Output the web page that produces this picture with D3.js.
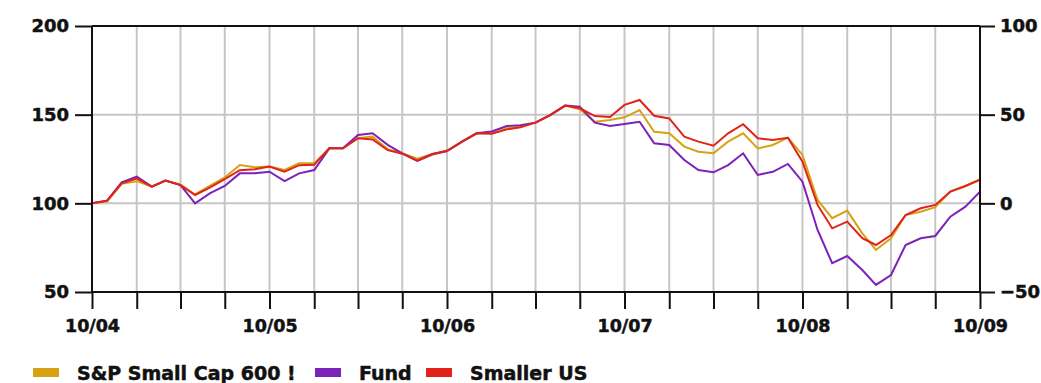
<!DOCTYPE html>
<html>
<head>
<meta charset="utf-8">
<script src="https://cdn.jsdelivr.net/npm/d3@7"></script>
<style>
  html, body { margin: 0; padding: 0; background: #ffffff; }
  svg { display: block; }
  text { font-family: "DejaVu Sans", Verdana, sans-serif; font-weight: bold; fill: #111; stroke: #111; stroke-width: 0.5px; }
</style>
</head>
<body>
<svg id="chart" width="1041" height="383"></svg>
<script>
// ---- data (monthly, Oct 2004 .. Oct 2009) ----
const startMonth = "2004-10";
const endMonth = "2009-10";
const spSmallCap = [100,101,111,112.5,109.4,112.8,110.5,105,110,114.6,121.6,120.4,120.7,118.8,122.6,122.6,131,131,136.7,137.6,130.5,128.2,125.2,127.8,129.8,134.8,139.5,139.5,142.3,143.5,145.5,149.8,155.1,153,146,147,148.5,152.6,140.4,139.5,132,129.1,128.2,134.8,139.5,131,132.9,137,127.3,101.9,91.6,95.9,83.1,73.7,80.3,93.4,95.3,97.8,106.6,109.8,113.7];
const fund = [100,101.5,111.8,115,109.4,112.8,110.3,100,105.7,109.8,116.9,116.9,117.8,112.5,116.9,118.8,131,131,138.5,139.5,133,128.2,124,127.8,129.5,134.8,139.5,140.5,143.6,144.1,145.5,149.8,155.1,154.5,145.5,143.6,144.7,146,133.9,132.9,124.4,118.8,117.5,121.6,128.2,116,117.8,122.2,112.2,85,66.2,70.3,62.4,54,59.6,76.5,80.3,81.6,92.5,98.1,106.6];
const smallerUS = [100,101.5,111.3,114,109.4,112.8,110.3,104.7,109,113.6,118.7,119.2,120.7,117.8,121.5,121.8,131,131,136.7,136,130,128,124,127.5,129.5,134.8,139.5,139.2,141.7,142.9,145.5,149.8,155.1,153.6,149.2,148.7,155.5,158.3,149.4,147.9,137.6,134.8,132.5,139.5,144.6,136.7,135.7,137,123.5,99.1,85.9,89.7,80.3,76.5,82.1,93.4,97.2,99.1,106.6,109.8,113.2];
const leftTicks = [50, 100, 150, 200];
const rightTicks = [-50, 0, 50, 100];
const seriesNames = ["S&P Small Cap 600 !", "Fund", "Smaller US"];
const seriesColors = ["#d6a214", "#7b22b8", "#e2231a"];

// ---- layout ----
const svg = d3.select("#chart");
const pL = 92, pR = 980, pT = 26, pB = 292;

const parse = d3.timeParse("%Y-%m");
const dates = d3.timeMonth.range(parse(startMonth), d3.timeMonth.offset(parse(endMonth), 1));

const x = d3.scaleTime().domain([parse(startMonth), parse(endMonth)]).range([pL, pR]);
const y = d3.scaleLinear().domain([50, 200]).range([pB, pT]);
const yR = d3.scaleLinear().domain([-50, 100]).range([pB, pT]);

const quarterTicks = d3.timeMonth.every(3).range(parse(startMonth), d3.timeMonth.offset(parse(endMonth), 1));

// grid
const grid = svg.append("g");
grid.selectAll("line.v").data(quarterTicks).join("line")
  .attr("x1", d => x(d)).attr("x2", d => x(d))
  .attr("y1", pT).attr("y2", pB)
  .attr("stroke", "#c6c6c6").attr("stroke-width", 2);
grid.selectAll("line.h").data([100, 150]).join("line")
  .attr("x1", pL).attr("x2", pR)
  .attr("y1", d => y(d)).attr("y2", d => y(d))
  .attr("stroke", "#c6c6c6").attr("stroke-width", 2);

// series lines
const series = [spSmallCap, fund, smallerUS];
const line = d3.line().x((d, i) => x(dates[i])).y(d => y(d));
series.forEach((s, k) => {
  svg.append("path").datum(s)
    .attr("d", line)
    .attr("fill", "none")
    .attr("stroke", seriesColors[k])
    .attr("stroke-width", 2)
    .attr("stroke-linejoin", "miter");
});

// frame
svg.append("line").attr("x1", pL).attr("x2", pR).attr("y1", pT).attr("y2", pT).attr("stroke", "#111").attr("stroke-width", 2);
svg.append("line").attr("x1", pL).attr("x2", pR).attr("y1", pB).attr("y2", pB).attr("stroke", "#111").attr("stroke-width", 2);

// left axis
const gL = svg.append("g").attr("transform", `translate(${pL},0)`)
  .call(d3.axisLeft(y).tickValues(leftTicks).tickSize(17).tickPadding(6).tickFormat(d3.format("d")));
// right axis
const gR = svg.append("g").attr("transform", `translate(${pR},0)`)
  .call(d3.axisRight(yR).tickValues(rightTicks).tickSize(15).tickPadding(5).tickFormat(d3.format("d")));
// bottom axis
const fmt = d3.timeFormat("%m/%y");
const gB = svg.append("g").attr("transform", `translate(0,${pB})`)
  .call(d3.axisBottom(x).tickValues(quarterTicks).tickSize(17).tickPadding(11)
    .tickFormat(d => d.getMonth() === 9 ? fmt(d) : ""));

[gL, gR, gB].forEach(g => {
  g.select(".domain").attr("stroke", "#111").attr("stroke-width", 2);
  g.selectAll(".tick line").attr("stroke", "#111").attr("stroke-width", 2);
  g.selectAll("text").attr("font-family", "DejaVu Sans").attr("font-weight", "bold").attr("font-size", 18)
    .attr("fill", "#111").attr("stroke", "#111").attr("stroke-width", 0.5);
});
gL.select(".domain").attr("d", `M0,${pT}V${pB}`);
gR.select(".domain").attr("d", `M0,${pT}V${pB}`);
gB.select(".domain").attr("d", `M${pL},0H${pR}`);
gB.selectAll("text").attr("font-size", 17.5);

// legend
const legend = svg.append("g");
const legX = [33, 315, 426];
seriesNames.forEach((name, k) => {
  legend.append("rect").attr("x", legX[k]).attr("y", 368).attr("width", 26).attr("height", 9).attr("fill", seriesColors[k]);
  legend.append("text").attr("x", legX[k] + 44).attr("y", 380)
    .attr("font-size", 19).text(name);
});
</script>
</body>
</html>
